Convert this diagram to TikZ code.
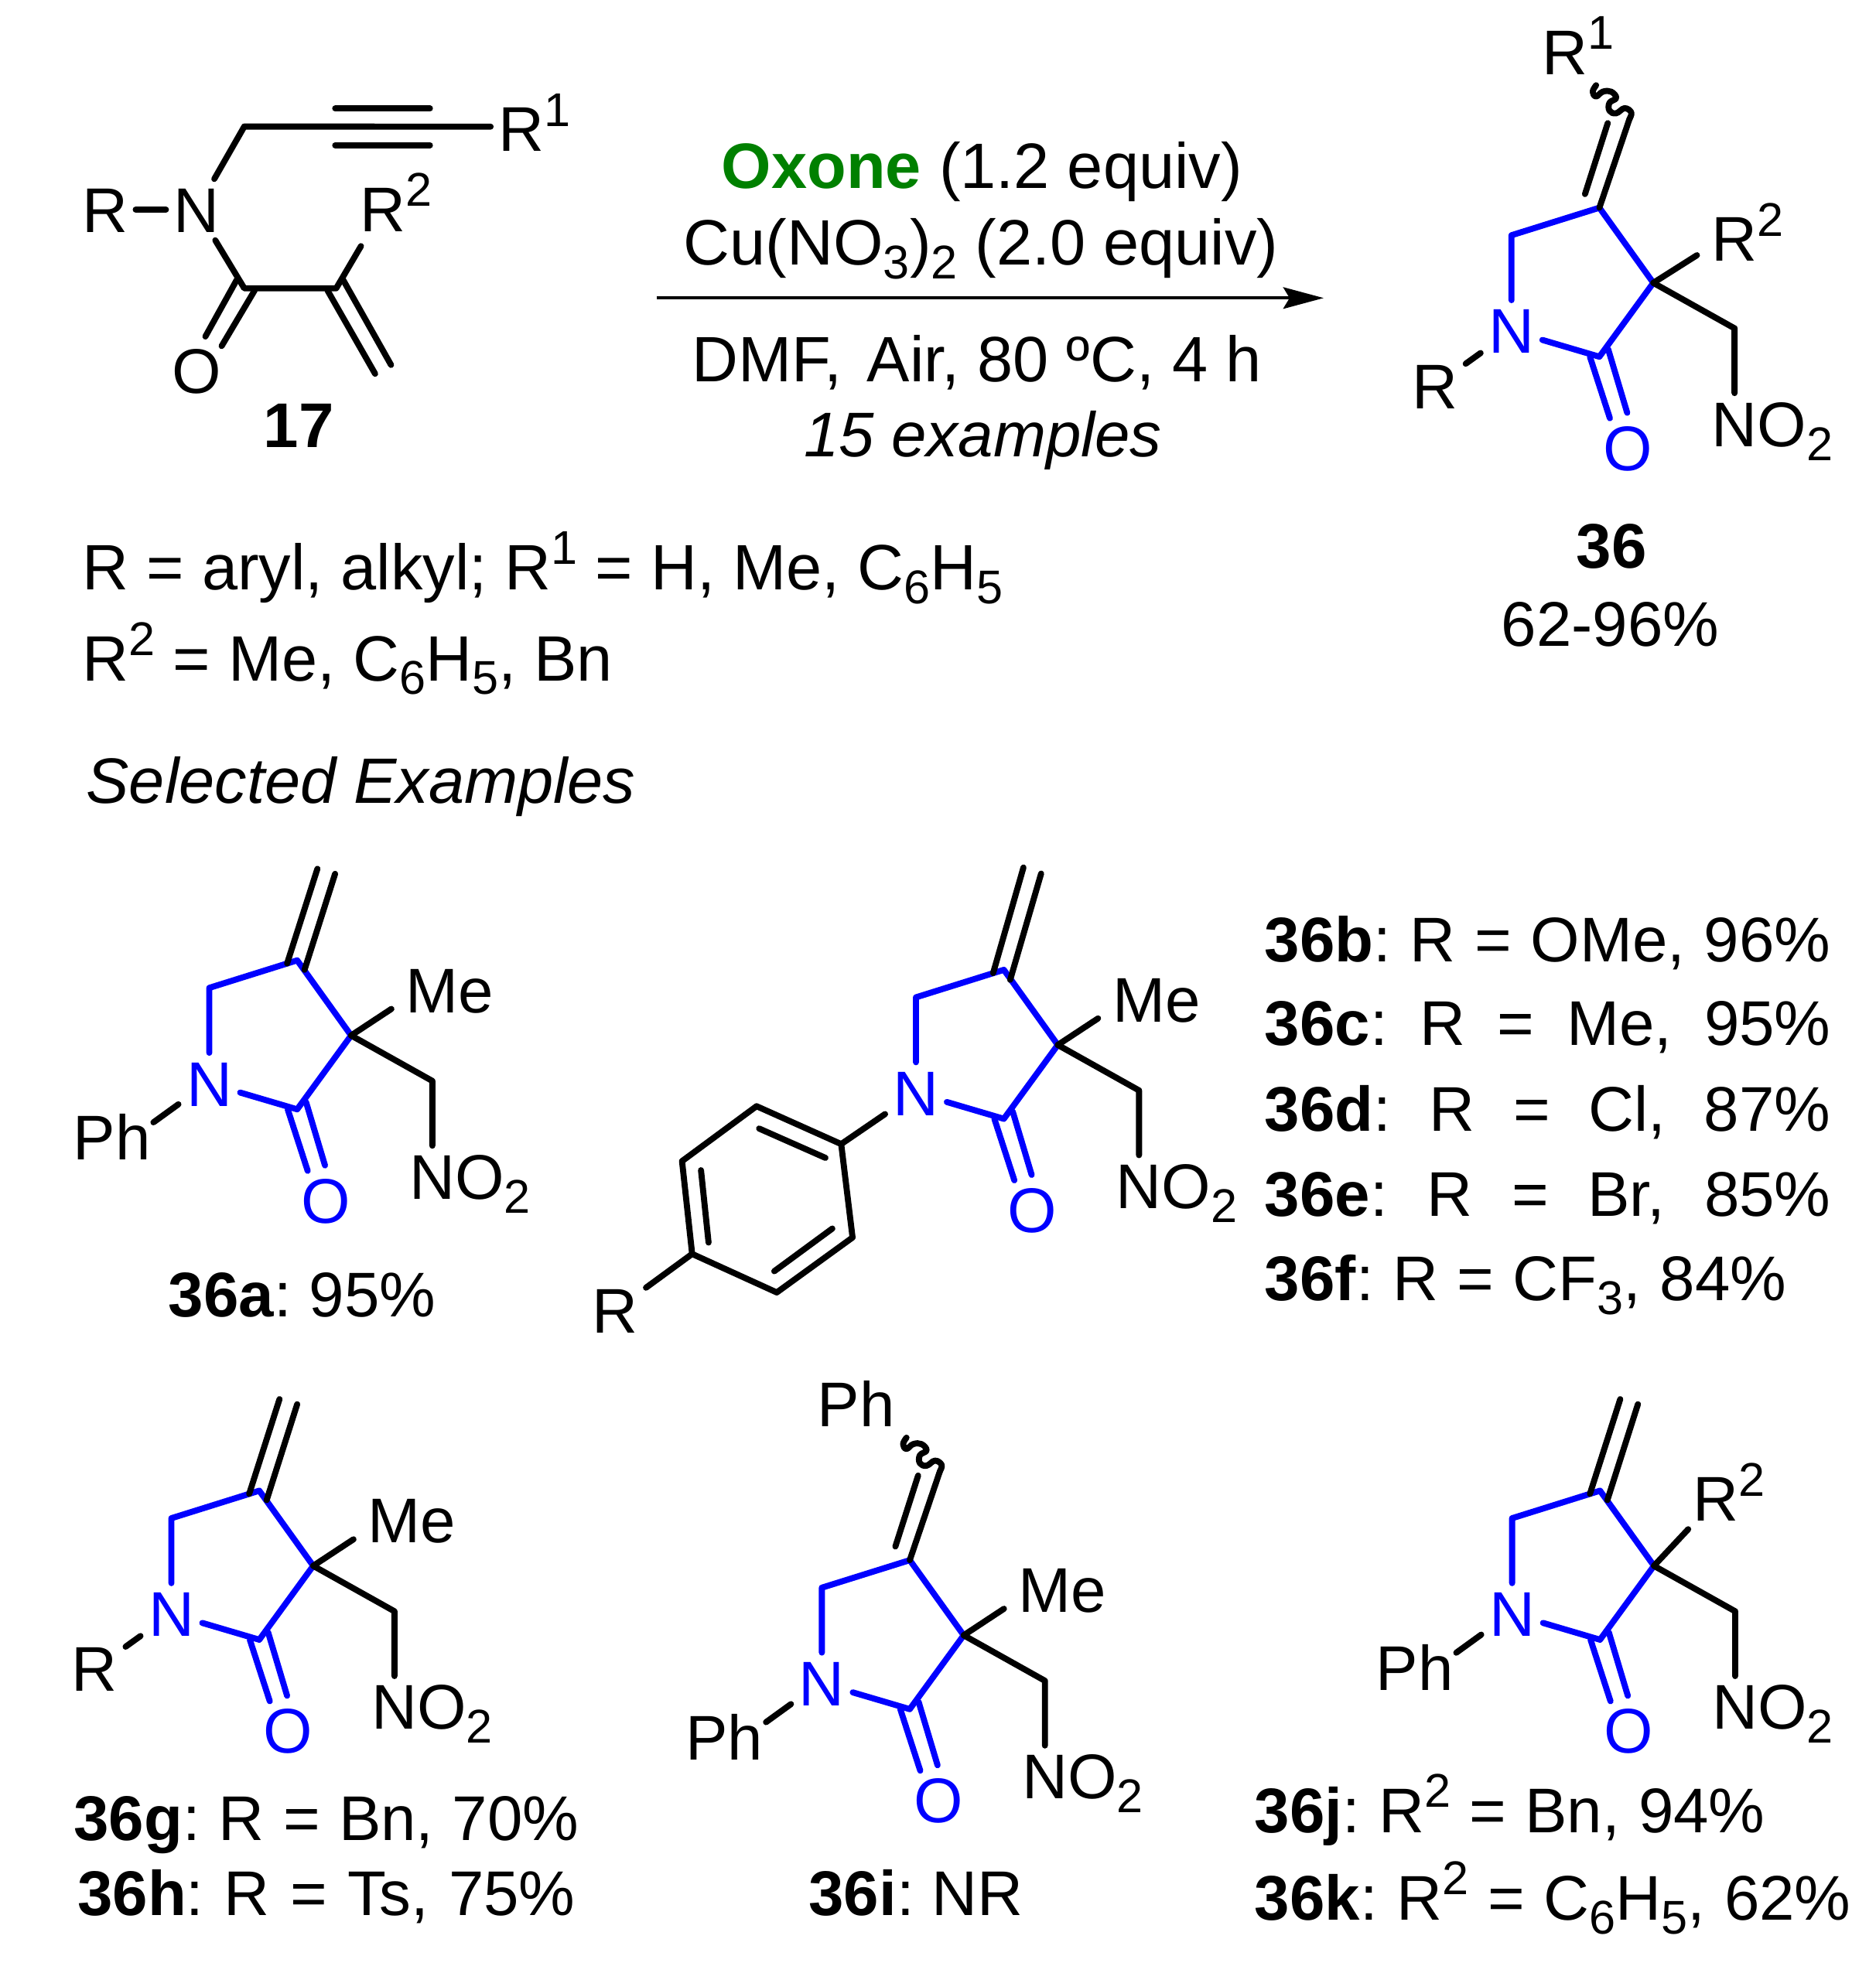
\documentclass[tikz,border=0pt]{standalone}
\usepackage{fontspec}
\setmainfont{Liberation Sans}
\usetikzlibrary{arrows.meta}
\definecolor{ringblue}{RGB}{0,0,255}
\definecolor{oxgreen}{RGB}{0,128,0}
\newcommand\Sup[1]{\raisebox{10pt}{\fontsize{18.75pt}{18.75pt}\selectfont #1}}
\newcommand\Sub[1]{\raisebox{-5.5pt}{\fontsize{18.75pt}{18.75pt}\selectfont #1}}
\tikzset{
  bond/.style={line width=2.4pt,line cap=round,line join=round,black},
  ringbond/.style={bond,draw=ringblue},
  atom/.style={inner sep=3pt,text height=17.9pt,text depth=0pt,font=\fontsize{25pt}{30pt}\selectfont},
  atomb/.style={atom,text=ringblue},
  subst/.style={atom,inner sep=5.5pt},
  phlabel/.style={atom,inner sep=1pt},
  txt/.style={anchor=base west,inner sep=0pt,font=\fontsize{25pt}{30pt}\selectfont\frenchspacing},
  ctxt/.style={anchor=base,inner sep=0pt,font=\fontsize{25pt}{30pt}\selectfont\frenchspacing},
  ftxt/.style={txt,font=\fontsize{25.4pt}{30pt}\selectfont\frenchspacing},
}
% five-membered lactam core, drawn round the quaternary carbon at the scope origin
\newcommand\lactam[1]{%
  \coordinate (#1C3) at (0,0);
  \coordinate (#1C4) at (-42.7,-59.5);
  \coordinate (#1C5) at (-112.3,-37.7);
  \coordinate (#1CO) at (-42.7,58.5);
  \coordinate (#1Cb) at (64.3,36);
  \node[atomb] (#1N) at (-112.3,38) {N};
  \node[atomb] (#1O) at (-20.1,130.5) {O};
  \node[atom] (#1NO) at (64.3,111.6) {N\rlap{O\Sub{2}}};
  \draw[ringbond] (#1N) -- (#1C5) -- (#1C4) -- (#1C3) -- (#1CO) -- (#1N);
  \draw[ringbond] (-50.2,58.5) coordinate (#1Oa) -- (-34.4,107.2) coordinate (#1Ob);
  \draw[ringbond] (-35.7,52.7) coordinate (#1Oc) -- (-20.7,102.9) coordinate (#1Od);
  \draw[bond] (#1C3) -- (#1Cb) -- (#1NO);
}
\newcommand\exoterm[1]{%
  \draw[bond] (-50.7,-57) coordinate (#1Ea) -- (-26.7,-132) coordinate (#1Eb);
  \draw[bond] (-36.9,-52) coordinate (#1Ec) -- (-12.7,-128) coordinate (#1Ed);
}
\newcommand\exolong[1]{%
  \draw[bond] (-51.2,-56.9) coordinate (#1Ea) -- (-27.2,-140.5) coordinate (#1Eb);
  \draw[bond] (-37.7,-51.6) coordinate (#1Ec) -- (-13.2,-135.7) coordinate (#1Ed);
}
\newcommand\exowavy[1]{%
  \coordinate (#1W) at (-18.8,-130);
  \draw[bond] (#1C4) -- (#1W);
  \draw[bond] (-54.1,-70.3) coordinate (#1Ea) -- (-36.1,-126.5) coordinate (#1Eb);
  \draw[bond] plot[smooth,tension=0.7] coordinates {(-18.8,-130) (-17.5,-135) (-22.8,-138.3) (-29.4,-134.3) (-34.7,-136.3) (-34.7,-142.6) (-29.4,-146.4) (-33.4,-151.4) (-40,-151.4) (-45.3,-147.6) (-48,-151.4) (-45.3,-156.5)};
}
\newcommand\melabel[1]{%
  \node[subst] (#1Me) at (78,-36) {Me};
  \draw[bond] (#1C3) -- (#1Me.198);
}
\newcommand\phlab[1]{%
  \node[phlabel] (#1Ph) at (-189.5,80.8) {Ph};
  \draw[bond] (#1N.214) -- (#1Ph.20);
}
\newcommand\rlab[1]{%
  \node[atom] (#1R) at (-173,81.6) {R};
  \draw[bond] (#1N) -- (#1R);
}
\begin{document}
\begin{tikzpicture}[x=0.5pt,y=-0.5pt]
\useasboundingbox (0,0) rectangle (1485,1568);
% substrate 17
\coordinate (sA) at (193.4,100.2);
\coordinate (sCO) at (193.4,228.3);
\coordinate (sCC) at (266.2,228.3);
\node[atom] (sN) at (155.8,166) {N};
\node[atom] (sR) at (83,166) {R};
\node[atom] (sO) at (155.8,293.6) {O};
\node[atom] (sRa) at (412.9,102) {R\rlap{\Sup{1}}};
\node[subst] (sRb) at (303,165.6) {R\rlap{\Sup{2}}};
\draw[bond] (sN) -- (sA) -- (sRa.176);
\draw[bond] (sR) -- (sN);
\draw[bond] (sN) -- (sCO) -- (sCC) -- (sRb);
\draw[bond] (265.4,86) coordinate (sT1) -- (340.4,86) coordinate (sT2);
\draw[bond] (265.4,115) coordinate (sT3) -- (340.4,115) coordinate (sT4);
\draw[bond] (187.4,221.7) coordinate (sD1) -- (162.6,266.5) coordinate (sD2);
\draw[bond] (201.6,230) coordinate (sD3) -- (175.5,274) coordinate (sD4);
\draw[bond] (259.3,230) coordinate (sD5) -- (297,296) coordinate (sD6);
\draw[bond] (271.7,221.7) coordinate (sD7) -- (309.6,289) coordinate (sD8);
\node[ctxt] (l17) at (236.5,354.5) {\textbf{17}};
% reaction arrow and conditions
\coordinate (arrA) at (520,236);
\coordinate (arrB) at (1048,236);
\draw[line width=1.2pt,-{Stealth[length=16pt,width=8.5pt,inset=2.5pt]}] (arrA) -- (arrB);
\node[ftxt] (c1) at (571,149) {\textcolor{oxgreen}{\textbf{Oxone}} (1.2 equiv)};
\node[ftxt] (c2) at (541,209.7) {Cu(NO\Sub{3})\Sub{2} (2.0 equiv)};
\node[ftxt] (c3) at (547.5,302.5) {DMF,\hspace{3pt} Air, 80 ºC, 4 h};
\node[txt] (c4) at (636,361.4) {\itshape 15 examples};
% product 36
\begin{scope}[shift={(1309,224)}]
\lactam{p}
\exowavy{p}
\node[subst] (pRt) at (64,-35) {R\rlap{\Sup{2}}};
\draw[bond] (pC3) -- (pRt.204);
\rlab{p}
\node[atom] (pRa) at (-70,-182.9) {R\rlap{\Sup{1}}};
\end{scope}
\node[ctxt] (l36) at (1276,450) {\textbf{36}};
\node[ctxt] (y36) at (1275,512) {62-96\%};
% scope of groups
\node[ftxt] (g1) at (65,467) {R = aryl, alkyl; R\Sup{1} = H, Me, C\Sub{6}H\Sub{5}};
\node[ftxt] (g2) at (65,539) {R\Sup{2} = Me, C\Sub{6}H\Sub{5}, Bn};
\node[ftxt] (g3) at (68,636) {\itshape Selected Examples};
% 36a
\begin{scope}[shift={(278,820)}]
\lactam{a}\exoterm{a}\melabel{a}\phlab{a}
\end{scope}
\node[txt] (la) at (133,1043) {\textbf{36a}: 95\%};
% 36b-f
\begin{scope}[shift={(837.5,827.5)}]
\lactam{b}\exolong{b}\melabel{b}
\end{scope}
\coordinate (bz1) at (666,906);
\coordinate (bz2) at (599,876);
\coordinate (bz3) at (540,919.5);
\coordinate (bz4) at (548,993);
\coordinate (bz5) at (615,1023.5);
\coordinate (bz6) at (675,980);
\node[atom] (bR) at (487,1037.6) {R};
\draw[bond] (bz1) -- (bz2) -- (bz3) -- (bz4) -- (bz5) -- (bz6) -- cycle;
\draw[bond] (bz1) -- (bN);
\draw[bond] (bz4) -- (bR);
\draw[bond] (601,893.7) coordinate (bi1) -- (653.5,916.9) coordinate (bi2);
\draw[bond] (555,926.7) coordinate (bi3) -- (561,984) coordinate (bi4);
\draw[bond] (613,1006.7) coordinate (bi5) -- (659,972.9) coordinate (bi6);
\node[txt] (lb) at (1001,761.6) {\makebox[224pt][s]{\textbf{36b}: R = OMe, 96\%}};
\node[txt] (lc) at (1001,828) {\makebox[224pt][s]{\textbf{36c}: R = Me, 95\%}};
\node[txt] (ld) at (1001,895.8) {\makebox[224pt][s]{\textbf{36d}: R = Cl, 87\%}};
\node[txt] (le) at (1001,963) {\makebox[224pt][s]{\textbf{36e}: R = Br, 85\%}};
\node[txt] (lf) at (1001,1030) {\makebox[206.5pt][s]{\textbf{36f}: R = CF\Sub{3}, 84\%}};
% 36g,h
\begin{scope}[shift={(248,1240)}]
\lactam{g}\exoterm{g}\melabel{g}\rlab{g}
\end{scope}
\node[txt] (lg) at (58,1457.5) {\makebox[200pt][s]{\textbf{36g}: R = Bn, 70\%}};
\node[txt] (lh) at (61,1517) {\makebox[197pt][s]{\textbf{36h}: R = Ts, 75\%}};
% 36i
\begin{scope}[shift={(763,1295)}]
\lactam{i}\exowavy{i}\melabel{i}\phlab{i}
\node[txt] (iPh) at (-116,-165) {Ph};
\end{scope}
\node[txt] (li) at (640,1517) {\textbf{36i}: NR};
% 36j,k
\begin{scope}[shift={(1309.5,1240)}]
\lactam{j}\exoterm{j}\phlab{j}
\node[atom] (jRt) at (49,-53.3) {R\rlap{\Sup{2}}};
\draw[bond] (jC3) -- (jRt.228);
\end{scope}
\node[txt] (lj) at (993,1451) {\makebox[202pt][s]{\textbf{36j}: R\Sup{2} = Bn, 94\%}};
\node[txt] (lk) at (993,1520.5) {\makebox[236pt][s]{\textbf{36k}: R\Sup{2} = C\Sub{6}H\Sub{5}, 62\%}};
\end{tikzpicture}
\end{document}
